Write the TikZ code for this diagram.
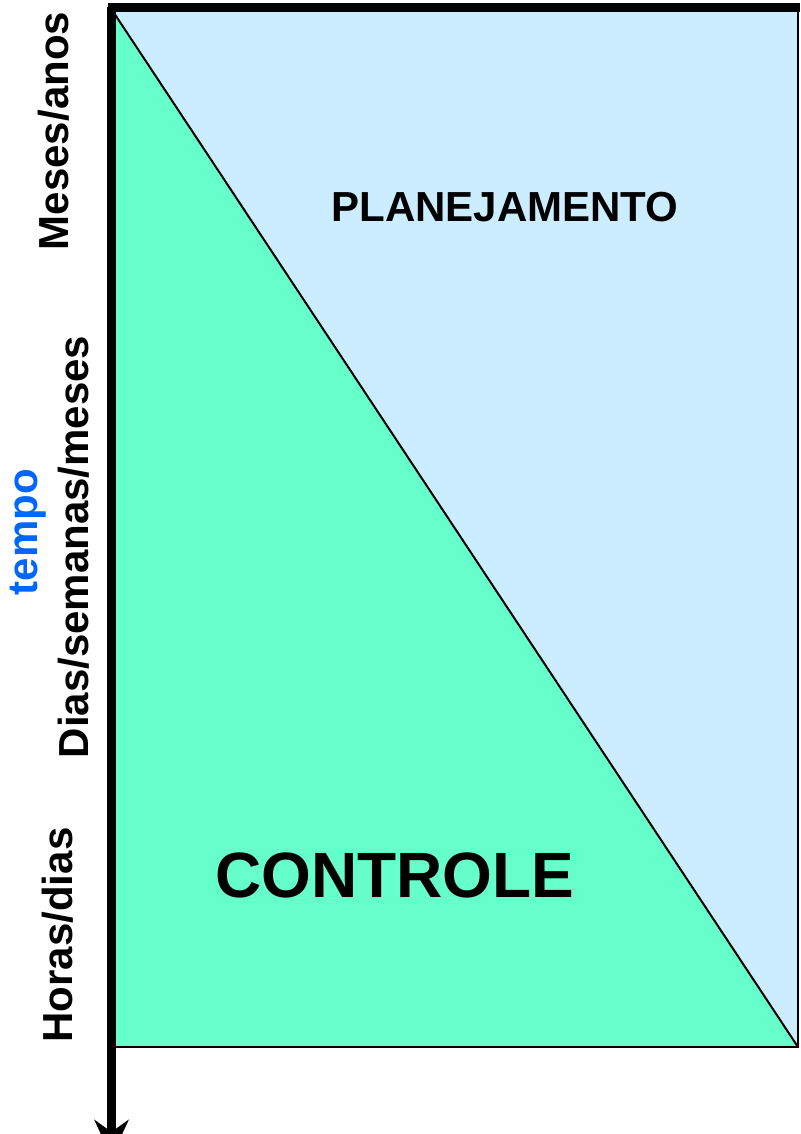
\documentclass[tikz,border=0pt]{standalone}
\usepackage{fontspec}
\setmainfont{Liberation Sans}
\usetikzlibrary{arrows.meta}
\definecolor{planblue}{HTML}{CCECFF}
\definecolor{ctrlgreen}{HTML}{66FFCC}
\definecolor{tempoblue}{HTML}{0066FF}
\begin{document}
\begin{tikzpicture}[x=1pt,y=-1pt,
  axislabel/.style={rotate=90,anchor=base,inner sep=0pt,font=\fontsize{42}{50}\selectfont\bfseries},
  arealabel/.style={anchor=base,inner sep=0pt,font=\fontsize{42}{50}\selectfont\bfseries},
  biglabel/.style={anchor=base,inner sep=0pt,font=\fontsize{64}{76}\selectfont\bfseries},
  thickline/.style={line width=8.5pt},
  thinline/.style={line width=1.5pt}]
\useasboundingbox (0,0) rectangle (800,1134);
% corners of the chart
\coordinate (tl) at (112,10);
\coordinate (tr) at (798,10);
\coordinate (bl) at (112,1047);
\coordinate (br) at (798,1047);
\coordinate (topL) at (107.5,7.5);
\coordinate (topR) at (800,7.5);
\coordinate (axT) at (111.5,7);
\coordinate (axB) at (111.5,1157);
% areas
\fill[planblue] (tl) -- (tr) -- (br) -- cycle;
\fill[ctrlgreen] (tl) -- (br) -- (bl) -- cycle;
\draw[line width=2pt] (tl) -- (br);
\draw[thinline] (bl) -- (br) -- (tr);
\draw[thickline] (topL) -- (topR);
\draw[thickline,-{Stealth[length=37pt,width=34pt,inset=12pt]}] (axT) -- (axB);
% labels
\node[axislabel] (meses) at (68,131) {Meses/anos};
\node[axislabel] (dias) at (88,547) {Dias/semanas/meses};
\node[axislabel,text=tempoblue] (tempo) at (37,532) {tempo};
\node[axislabel] (horas) at (72,935) {Horas/dias};
\node[arealabel] (plan) at (505,221) {PLANEJAMENTO};
\node[biglabel] (ctrl) at (395,897) {CONTROLE};
\end{tikzpicture}
\end{document}
